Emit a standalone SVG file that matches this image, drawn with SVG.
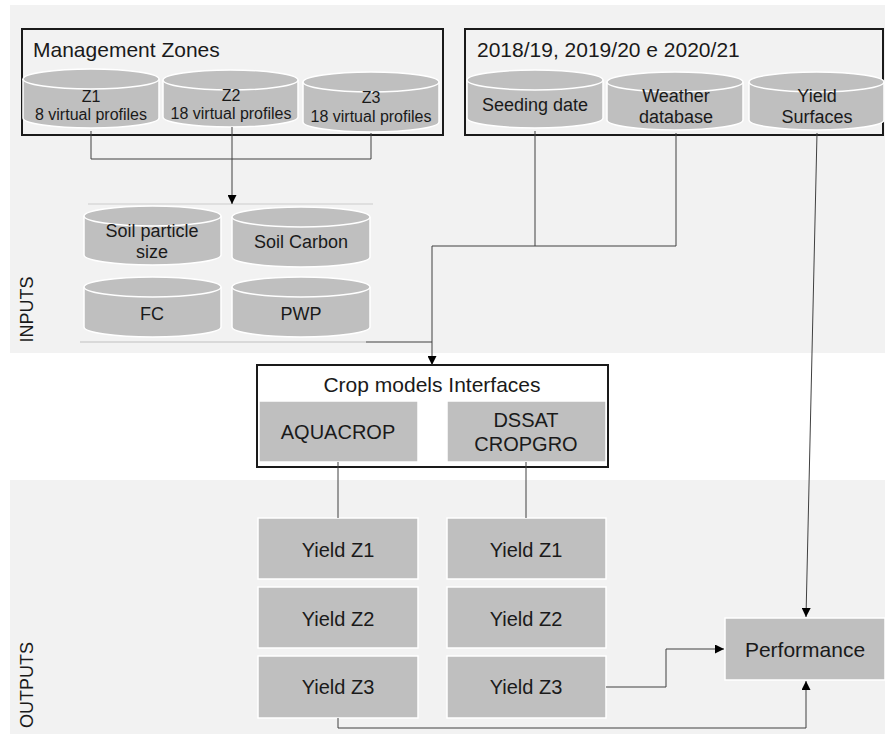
<svg xmlns="http://www.w3.org/2000/svg" width="885" height="734" viewBox="0 0 885 734">
<defs>
<style>
text{font-family:"Liberation Sans",Arial,sans-serif;fill:#1a1a1a;text-anchor:middle}
.band{fill:#f2f2f2}
.cyl{fill:#bfbfbf;stroke:#ffffff;stroke-width:1.5}
.box{fill:#bfbfbf;stroke:#ffffff;stroke-width:1.5}
.con{fill:none;stroke:#404040;stroke-width:1}
.t16{font-size:16px}
.t18{font-size:18px}
.t20{font-size:20px}
.t21{font-size:21px}
</style>
<marker id="ah" viewBox="0 0 10 10" refX="10" refY="5" markerWidth="9" markerHeight="9" markerUnits="userSpaceOnUse" orient="auto">
<path d="M0,0 L10,5 L0,10 z" fill="#000"/>
</marker>
</defs>
<rect width="885" height="734" fill="#ffffff"/>
<rect class="band" x="10" y="5" width="875" height="348"/>
<rect class="band" x="10" y="480" width="875" height="254"/>
<text class="t18" transform="translate(33,309.5) rotate(-90)">INPUTS</text>
<text class="t18" transform="translate(33,685) rotate(-90)">OUTPUTS</text>

<g id="management-zones">
<rect x="22" y="29" width="421" height="106" fill="none" stroke="#1a1a1a" stroke-width="2"/>
<text class="t21" x="33" y="57" style="text-anchor:start">Management Zones</text>
</g>
<g id="z1">
<path class="cyl" d="M23,79 L23,118 A68,10 0 0 0 159,118 L159,79"/>
<ellipse class="cyl" cx="91" cy="79" rx="68" ry="10"/>
<text class="t16" x="91" y="102">Z1</text>
<text class="t16" x="91" y="120">8 virtual profiles</text>
</g>
<g id="z2">
<path class="cyl" d="M163,80 L163,117 A67.5,10 0 0 0 298,117 L298,80"/>
<ellipse class="cyl" cx="230.5" cy="80" rx="67.5" ry="10"/>
<text class="t16" x="231" y="101">Z2</text>
<text class="t16" x="231" y="119">18 virtual profiles</text>
</g>
<g id="z3">
<path class="cyl" d="M303,82 L303,122 A68,10 0 0 0 439,122 L439,82"/>
<ellipse class="cyl" cx="371" cy="82" rx="68" ry="10"/>
<text class="t16" x="371" y="103">Z3</text>
<text class="t16" x="371" y="122">18 virtual profiles</text>
</g>

<g id="seasons">
<rect x="465" y="29" width="418" height="106" fill="none" stroke="#1a1a1a" stroke-width="2"/>
<text class="t21" x="477" y="57" style="text-anchor:start">2018/19, 2019/20 e 2020/21</text>
</g>
<g id="seeding-date">
<path class="cyl" d="M467,80 L467,118 A68,10 0 0 0 603,118 L603,80"/>
<ellipse class="cyl" cx="535" cy="80" rx="68" ry="10"/>
<text class="t18" x="535" y="111">Seeding date</text>
</g>
<g id="weather-database">
<path class="cyl" d="M607,82 L607,120 A68,10 0 0 0 743,120 L743,82"/>
<ellipse class="cyl" cx="675" cy="82" rx="68" ry="10"/>
<text class="t18" x="676" y="102">Weather</text>
<text class="t18" x="676" y="123">database</text>
</g>
<g id="yield-surfaces">
<path class="cyl" d="M749,82 L749,120 A67.5,10 0 0 0 884,120 L884,82"/>
<ellipse class="cyl" cx="816.5" cy="82" rx="67.5" ry="10"/>
<text class="t18" x="817" y="102">Yield</text>
<text class="t18" x="817" y="123">Surfaces</text>
</g>

<g id="soil-group">
<line x1="88" y1="204" x2="373" y2="204" stroke="#d9d9d9" stroke-width="1.5"/>
<line x1="80" y1="342" x2="366" y2="342" stroke="#d0d0d0" stroke-width="1.5"/>
</g>
<g id="soil-particle-size">
<path class="cyl" d="M84,216 L84,255 A68.5,10 0 0 0 221,255 L221,216"/>
<ellipse class="cyl" cx="152.5" cy="216" rx="68.5" ry="10"/>
<text class="t18" x="152" y="237">Soil particle</text>
<text class="t18" x="152" y="258">size</text>
</g>
<g id="soil-carbon">
<path class="cyl" d="M232,217 L232,257 A69,10 0 0 0 370,257 L370,217"/>
<ellipse class="cyl" cx="301" cy="217" rx="69" ry="10"/>
<text class="t18" x="301" y="248">Soil Carbon</text>
</g>
<g id="fc">
<path class="cyl" d="M84,287 L84,327 A68.5,10 0 0 0 221,327 L221,287"/>
<ellipse class="cyl" cx="152.5" cy="287" rx="68.5" ry="10"/>
<text class="t18" x="152" y="320">FC</text>
</g>
<g id="pwp">
<path class="cyl" d="M232,287 L232,327 A69,10 0 0 0 370,327 L370,287"/>
<ellipse class="cyl" cx="301" cy="287" rx="69" ry="10"/>
<text class="t18" x="301" y="320">PWP</text>
</g>

<g id="crop-models">
<rect x="257" y="365" width="351" height="102" fill="#ffffff" stroke="#1a1a1a" stroke-width="2"/>
<text class="t21" x="432" y="392">Crop models Interfaces</text>
</g>
<g id="aquacrop">
<rect class="box" x="259" y="401" width="159" height="61"/>
<text class="t20" x="338" y="439">AQUACROP</text>
</g>
<g id="dssat">
<rect class="box" x="447" y="401" width="159" height="61"/>
<text class="t20" x="526" y="427">DSSAT</text>
<text class="t20" x="526" y="451">CROPGRO</text>
</g>

<g id="aq-yield-z1"><rect class="box" x="258" y="518" width="160" height="61"/><text class="t20" x="338" y="557">Yield Z1</text></g>
<g id="aq-yield-z2"><rect class="box" x="258" y="587" width="160" height="61"/><text class="t20" x="338" y="626">Yield Z2</text></g>
<g id="aq-yield-z3"><rect class="box" x="258" y="656" width="160" height="62"/><text class="t20" x="338" y="694">Yield Z3</text></g>
<g id="ds-yield-z1"><rect class="box" x="447" y="518" width="159" height="61"/><text class="t20" x="526" y="557">Yield Z1</text></g>
<g id="ds-yield-z2"><rect class="box" x="447" y="587" width="159" height="61"/><text class="t20" x="526" y="626">Yield Z2</text></g>
<g id="ds-yield-z3"><rect class="box" x="447" y="656" width="159" height="62"/><text class="t20" x="526" y="694">Yield Z3</text></g>
<g id="performance"><rect class="box" x="725" y="618" width="160" height="62"/><text class="t21" x="805" y="657">Performance</text></g>

<g id="connectors">
<polyline class="con" points="91,131 91,159 371,159 371,133"/>
<line class="con" x1="232" y1="127" x2="232" y2="204" marker-end="url(#ah)"/>
<line class="con" x1="535" y1="131" x2="535" y2="246"/>
<polyline class="con" points="676,133 676,246 432,246 432,365" marker-end="url(#ah)"/>
<line class="con" x1="366" y1="342" x2="432" y2="342"/>
<line class="con" x1="817" y1="133" x2="806" y2="617" marker-end="url(#ah)"/>
<line class="con" x1="338" y1="462" x2="338" y2="518"/>
<line class="con" x1="526" y1="462" x2="526" y2="518"/>
<polyline class="con" points="606,687 666,687 666,649 724,649" marker-end="url(#ah)"/>
<polyline class="con" points="338,718 338,728 806,728 806,681" marker-end="url(#ah)"/>
</g>
</svg>
